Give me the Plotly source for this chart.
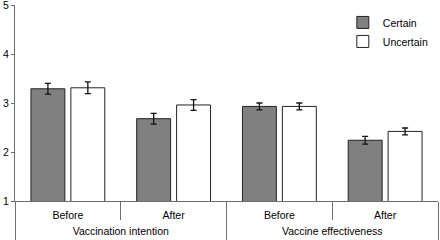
import plotly.graph_objects as go

groups = ["Vaccination intention", "Vaccination intention", "Vaccine effectiveness", "Vaccine effectiveness"]
phases = ["Before", "After", "Before", "After"]
certain = [3.29, 2.68, 2.93, 2.24]
certain_err = [0.11, 0.11, 0.07, 0.08]
uncertain = [3.31, 2.96, 2.93, 2.42]
uncertain_err = [0.12, 0.11, 0.07, 0.07]

FONT = "Liberation Sans, Arial, sans-serif"
FS = 10.5
AX = "#6e6e6e"

n = len(phases)
xpos = list(range(n))
# boundaries between sub-categories inside a group, and between groups (incl. outer edges)
sub_bounds = [i + 0.5 for i in range(n - 1) if groups[i] == groups[i + 1]]
group_bounds = [-0.5] + [i + 0.5 for i in range(n - 1) if groups[i] != groups[i + 1]] + [n - 0.5]
group_names = []
group_centers = []
for g in dict.fromkeys(groups):
    idx = [i for i, v in enumerate(groups) if v == g]
    group_names.append(g)
    group_centers.append(sum(idx) / len(idx))

fig = go.Figure()
fig.add_trace(go.Bar(
    x=xpos, y=certain, name="Certain",
    marker=dict(color="#808080", line=dict(color="#222222", width=1)),
    error_y=dict(type="data", array=certain_err, color="#111111", thickness=1.3, width=3),
))
fig.add_trace(go.Bar(
    x=xpos, y=uncertain, name="Uncertain",
    marker=dict(color="#ffffff", line=dict(color="#222222", width=1)),
    error_y=dict(type="data", array=uncertain_err, color="#111111", thickness=1.3, width=3),
))
# empty helper trace so that the group-label axis (x2) is rendered
fig.add_trace(go.Scatter(x=group_centers, y=[None] * len(group_centers), xaxis="x2",
                         mode="markers", showlegend=False, hoverinfo="skip"))

xr = [-0.5, n - 0.5]
fig.update_layout(
    width=440, height=240,
    margin=dict(l=15, r=2, t=5, b=39, autoexpand=False),
    paper_bgcolor="white", plot_bgcolor="white",
    barmode="group", bargap=0.245, bargroupgap=0.15,
    font=dict(family=FONT, size=FS, color="#000000"),
    showlegend=True,
    legend=dict(x=0.775, y=0.985, xanchor="left", yanchor="top",
                bgcolor="rgba(0,0,0,0)", font=dict(size=FS),
                itemwidth=30, tracegroupgap=0),
    xaxis=dict(range=xr, tickmode="array", tickvals=xpos, ticktext=phases,
               showgrid=False, zeroline=False, showline=True, linecolor=AX, linewidth=1,
               ticks="", ticklabelstandoff=4,
               minor=dict(tickmode="array", tickvals=sub_bounds, ticks="outside",
                          ticklen=18, tickcolor=AX, tickwidth=1, showgrid=False),
               automargin=False),
    xaxis2=dict(range=xr, overlaying="x", anchor="y", side="bottom",
                tickmode="array", tickvals=group_centers, ticktext=group_names,
                showgrid=False, zeroline=False, showline=False,
                ticks="", ticklabelstandoff=22,
                minor=dict(tickmode="array", tickvals=group_bounds, ticks="outside",
                           ticklen=39, tickcolor=AX, tickwidth=1, showgrid=False),
                automargin=False),
    yaxis=dict(range=[1, 5], tickvals=[1, 2, 3, 4, 5], showgrid=False, zeroline=False,
               showline=True, linecolor=AX, linewidth=1,
               ticks="outside", ticklen=3, tickcolor=AX, automargin=False,
               ticklabeloverflow="allow"),
)

fig.write_html("out.html", config={"displayModeBar": False},
               post_script="document.body.style.margin='0';")
